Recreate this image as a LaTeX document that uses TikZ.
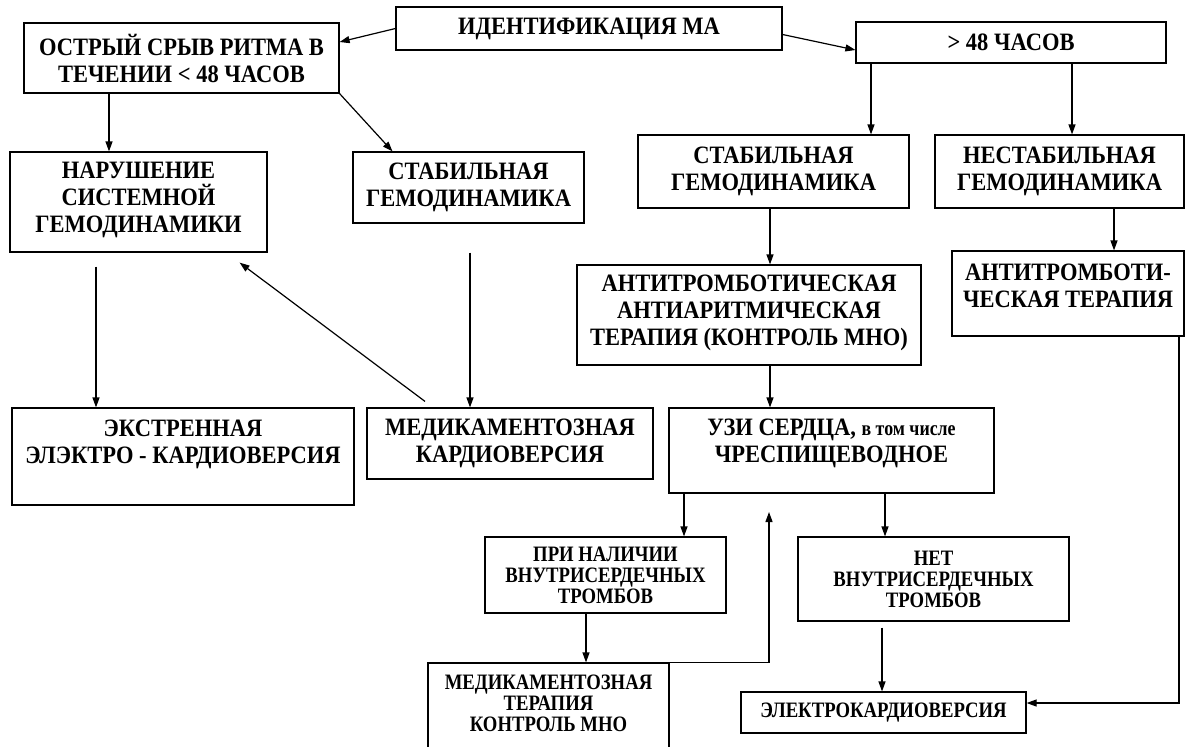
\documentclass[tikz,border=0pt]{standalone}
\usepackage{fontspec}
\setmainfont{Liberation Serif}[FakeStretch=0.9]
\newfontfamily\narrowfont[FakeStretch=0.85]{Liberation Serif}
\usetikzlibrary{arrows.meta}

\tikzset{
  box/.style={draw, line width=0.6pt, inner sep=2pt, align=center,
    font=\bfseries\fontsize{12.5}{13.5}\selectfont},
  smallbox/.style={box, font=\narrowfont\bfseries\fontsize{11}{10.5}\selectfont},
  lift/.style={execute at end node={\rule[-#1]{0pt}{0pt}}},
  arr/.style={-{Triangle[length=5pt,width=3.5pt]}, line width=0.6pt},
}

\begin{document}
\begin{tikzpicture}[x=0.5pt, y=-0.5pt]
\useasboundingbox (0,0) rectangle (1192,746);

% top row
\node[box, minimum width=193pt, minimum height=21.5pt] (ident) at (589,28.5) {ИДЕНТИФИКАЦИЯ МА};
\node[box, minimum width=157.5pt, minimum height=35pt] (acute) at (181.5,58) {ОСТРЫЙ СРЫВ РИТМА В\\ТЕЧЕНИИ < 48 ЧАСОВ};
\node[box, minimum width=155pt, minimum height=20.5pt] (over48) at (1011,42.5) {> 48 ЧАСОВ};

% haemodynamics
\node[box, lift=5pt, minimum width=128.5pt, minimum height=50pt] (disturbed) at (138.5,202) {НАРУШЕНИЕ\\СИСТЕМНОЙ\\ГЕМОДИНАМИКИ};
\node[box, minimum width=115.5pt, minimum height=35.5pt] (stableL) at (468.5,187.5) {СТАБИЛЬНАЯ\\ГЕМОДИНАМИКА};
\node[box, minimum width=135.5pt, minimum height=36.5pt] (stableR) at (773.5,171.5) {СТАБИЛЬНАЯ\\ГЕМОДИНАМИКА};
\node[box, minimum width=124.5pt, minimum height=36.5pt] (unstableR) at (1059.5,171.5) {НЕСТАБИЛЬНАЯ\\ГЕМОДИНАМИКА};

% therapy
\node[box, lift=5pt, minimum width=172pt, minimum height=50pt] (antiA) at (749,315) {АНТИТРОМБОТИЧЕСКАЯ\\АНТИАРИТМИЧЕСКАЯ\\ТЕРАПИЯ (КОНТРОЛЬ МНО)};
\node[box, lift=8pt, minimum width=116pt, minimum height=42.5pt] (antiT) at (1068,293.5) {АНТИТРОМБОТИ-\\ЧЕСКАЯ ТЕРАПИЯ};
\node[box, lift=15pt, minimum width=171pt, minimum height=48.5pt] (ecv) at (183,456.5) {ЭКСТРЕННАЯ\\ЭЛЭКТРО - КАРДИОВЕРСИЯ};
\node[box, minimum width=143pt, minimum height=35.5pt] (medcv) at (510,443.5) {МЕДИКАМЕНТОЗНАЯ\\КАРДИОВЕРСИЯ};
\node[box, lift=10pt, minimum width=162.5pt, minimum height=42.5pt] (echo) at (831.5,450.5) {УЗИ СЕРДЦА,\ {\narrowfont\fontsize{10.5}{12}\selectfont в том числе}\\ЧРЕСПИЩЕВОДНОЕ};

% bottom
\node[smallbox, minimum width=120.5pt, minimum height=38pt] (thrombYes) at (605.5,575) {ПРИ НАЛИЧИИ\\ВНУТРИСЕРДЕЧНЫХ\\ТРОМБОВ};
\node[smallbox, minimum width=135.5pt, minimum height=42pt] (thrombNo) at (933.5,579) {НЕТ\\ВНУТРИСЕРДЕЧНЫХ\\ТРОМБОВ};
\node[smallbox, lift=10pt, minimum width=120.5pt, minimum height=50pt] (medth) at (548.5,713) {МЕДИКАМЕНТОЗНАЯ\\ТЕРАПИЯ\\КОНТРОЛЬ МНО};
\node[smallbox, minimum width=142.5pt, minimum height=20.5pt] (elcv) at (883.5,712.5) {ЭЛЕКТРОКАРДИОВЕРСИЯ};

% columns for vertical arrows
\coordinate (colA) at (109,0);
\coordinate (colB) at (871,0);
\coordinate (colC) at (1072,0);
\coordinate (colD) at (770,0);
\coordinate (colE) at (1114,0);
\coordinate (colF) at (96,0);
\coordinate (colG) at (470,0);
\coordinate (colH) at (684,0);
\coordinate (colI) at (885,0);
\coordinate (colJ) at (586,0);
\coordinate (colK) at (882,0);
\coordinate (colL) at (1179,0);
\coordinate (back) at (769,512);

\draw[arr] (ident.west) -- ([yshift=8pt]acute.east);
\draw[arr] ([yshift=-3pt]ident.east) -- ([yshift=-3.75pt]over48.west);
\draw[arr] (acute.south -| colA) -- (disturbed.north -| colA);
\draw[arr] (acute.south east) -- ([xshift=-38pt]stableL.north);
\draw[arr] (over48.south -| colB) -- (stableR.north -| colB);
\draw[arr] (over48.south -| colC) -- (unstableR.north -| colC);
\draw[arr] (stableR.south -| colD) -- (antiA.north -| colD);
\draw[arr] (unstableR.south -| colE) -- (antiT.north -| colE);
\draw[arr] (antiA.south -| colD) -- (echo.north -| colD);
\draw[arr] (disturbed.south -| colF) ++(0,14) -- (ecv.north -| colF);
\draw[arr] (stableL.south -| colG) ++(0,29) -- (medcv.north -| colG);
\draw[arr] ([xshift=-42.5pt,yshift=3pt]medcv.north) -- ([xshift=-14pt,yshift=-5pt]disturbed.south east);
\draw[arr] (echo.south -| colH) -- (thrombYes.north -| colH);
\draw[arr] (echo.south -| colI) -- (thrombNo.north -| colI);
\draw[arr] (thrombYes.south -| colJ) -- (medth.north -| colJ);
\draw[arr] (medth.north east) -| (back);
\draw[arr] (thrombNo.south -| colK) ++(0,6) -- (elcv.north -| colK);
\draw[arr] (antiT.south -| colL) |- ([yshift=4.75pt]elcv.east);
\end{tikzpicture}
\end{document}
